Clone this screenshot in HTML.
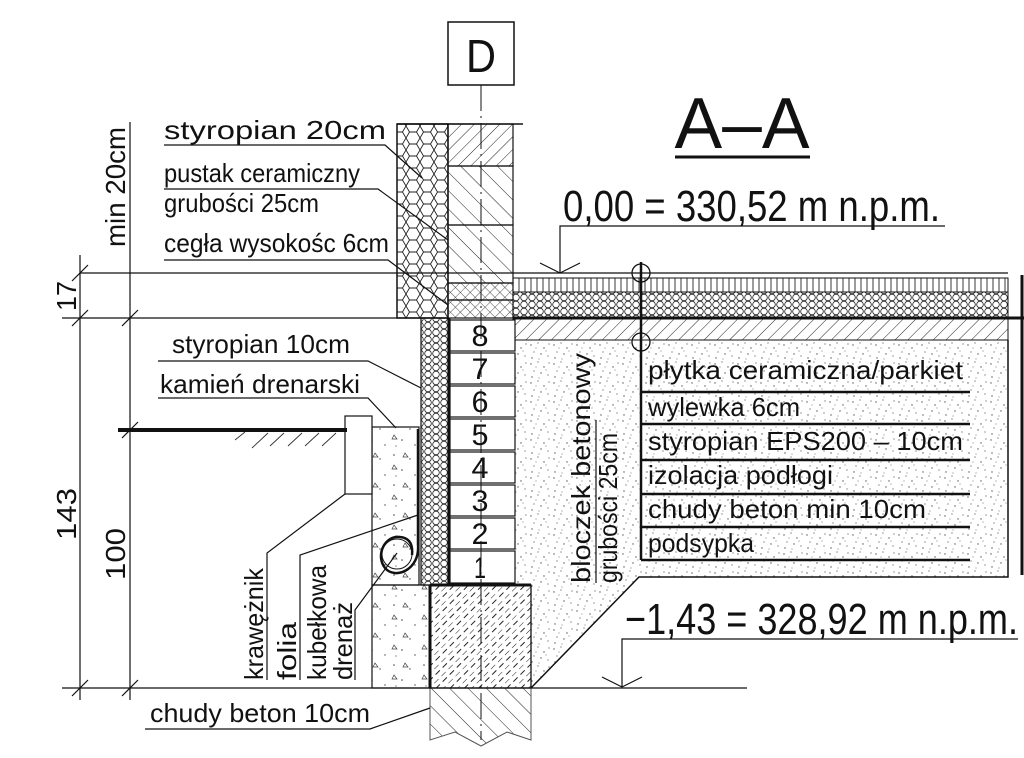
<!DOCTYPE html>
<html><head><meta charset="utf-8"><style>
html,body{margin:0;padding:0;background:#fff;}
svg{display:block;}
text{font-family:"Liberation Sans",sans-serif;fill:#111;}
</style></head><body>
<svg width="1024" height="758" viewBox="0 0 1024 758" xmlns="http://www.w3.org/2000/svg">
<defs>
<pattern id="hex" width="14" height="12" patternUnits="userSpaceOnUse">
<path d="M3.5,0 L10.5,0 L14,6 L10.5,12 L3.5,12 L0,6 Z" fill="none" stroke="#222" stroke-width="0.9"/>
</pattern>
<pattern id="hexs" width="8" height="7" patternUnits="userSpaceOnUse">
<circle cx="4" cy="3.5" r="3.3" fill="none" stroke="#222" stroke-width="0.8"/>
</pattern>
<pattern id="hatch" width="9" height="9" patternUnits="userSpaceOnUse" patternTransform="rotate(45)">
<line x1="0" y1="0" x2="0" y2="9" stroke="#222" stroke-width="1"/>
</pattern>
<pattern id="hatch2" width="13" height="13" patternUnits="userSpaceOnUse" patternTransform="rotate(-45)">
<line x1="0" y1="0" x2="0" y2="13" stroke="#222" stroke-width="1"/>
</pattern>
<pattern id="hatchd" width="10" height="10" patternUnits="userSpaceOnUse" patternTransform="rotate(45)">
<line x1="0" y1="0" x2="0" y2="6" stroke="#222" stroke-width="1"/>
<line x1="5" y1="3" x2="5" y2="9" stroke="#222" stroke-width="1"/>
</pattern>
<pattern id="cross" width="7" height="7" patternUnits="userSpaceOnUse" patternTransform="rotate(45)">
<line x1="0" y1="0" x2="0" y2="7" stroke="#222" stroke-width="0.8"/>
<line x1="0" y1="0" x2="7" y2="0" stroke="#222" stroke-width="0.8"/>
</pattern>
<pattern id="vl" width="6" height="20" patternUnits="userSpaceOnUse">
<line x1="3" y1="0" x2="3" y2="20" stroke="#222" stroke-width="0.9"/>
</pattern>
<pattern id="dots" width="23" height="19" patternUnits="userSpaceOnUse">
<g fill="#555"><circle cx="2" cy="3" r="0.7"/><circle cx="9" cy="1" r="0.6"/><circle cx="15" cy="6" r="0.7"/><circle cx="20" cy="2" r="0.6"/><circle cx="5" cy="10" r="0.6"/><circle cx="12" cy="12" r="0.7"/><circle cx="19" cy="14" r="0.6"/><circle cx="3" cy="16" r="0.7"/><circle cx="10" cy="17" r="0.5"/><circle cx="17" cy="9" r="0.5"/><circle cx="7" cy="6" r="0.5"/></g>
</pattern>
<pattern id="conc" width="30" height="30" patternUnits="userSpaceOnUse">
<g fill="#444"><circle cx="4" cy="5" r="0.8"/><circle cx="20" cy="9" r="0.7"/><circle cx="12" cy="20" r="0.8"/><circle cx="25" cy="25" r="0.7"/><circle cx="6" cy="26" r="0.6"/></g>
<path d="M15,3 l3,4 h-5z M4,15 l3,4 h-5z" fill="none" stroke="#444" stroke-width="0.7"/>
</pattern>
</defs>

<!-- D box -->
<rect x="448" y="22" width="66" height="63" fill="none" stroke="#111" stroke-width="1.5"/>
<text x="481" y="72" font-size="46" text-anchor="middle" textLength="30" lengthAdjust="spacingAndGlyphs">D</text>

<!-- A-A -->
<text x="742" y="148" font-size="72" text-anchor="middle" textLength="135" lengthAdjust="spacingAndGlyphs">A–A</text>
<line x1="675" y1="157" x2="810" y2="157" stroke="#111" stroke-width="3"/>

<!-- 0,00 label -->
<text x="563" y="221" font-size="44" textLength="377" lengthAdjust="spacingAndGlyphs">0,00 = 330,52 m n.p.m.</text>
<polyline points="945,226 560,226 560,273" fill="none" stroke="#111" stroke-width="1.2"/>
<polyline points="540,263 560,273 580,263" fill="none" stroke="#111" stroke-width="1.2"/>

<!-- sand fill -->
<path d="M515,340 H1008 V577 H639 L531,688 V585 H515 Z" fill="url(#dots)" stroke="none"/>
<path d="M1008,340 V577 H639 L531,688" fill="none" stroke="#111" stroke-width="1.5"/>

<!-- upper wall -->
<rect x="397" y="124" width="51" height="194" fill="url(#hex)" stroke="#111" stroke-width="1.5"/>
<rect x="448" y="124" width="65" height="42" fill="url(#hatch)" stroke="#111" stroke-width="1.2"/>
<rect x="448" y="166" width="65" height="59" fill="url(#hatch2)" stroke="#111" stroke-width="1.2"/>
<rect x="448" y="225" width="65" height="58" fill="url(#hatch2)" stroke="#111" stroke-width="1.2"/>
<rect x="448" y="283" width="65" height="17" fill="url(#cross)" stroke="#111" stroke-width="1.2"/>
<rect x="448" y="300" width="65" height="18" fill="url(#cross)" stroke="#111" stroke-width="1.2"/>
<line x1="397" y1="124" x2="523" y2="124" stroke="#111" stroke-width="1.5"/>

<!-- floor layers -->
<rect x="513" y="278" width="495" height="14" fill="url(#vl)" stroke="#111" stroke-width="1"/>
<rect x="513" y="292" width="495" height="26" fill="url(#hexs)" stroke="#111" stroke-width="1"/>
<rect x="513" y="318" width="495" height="22" fill="url(#hatch)" stroke="#111" stroke-width="1"/>
<line x1="513" y1="318" x2="1024" y2="318" stroke="#111" stroke-width="3"/>
<line x1="80" y1="273" x2="1008" y2="273" stroke="#111" stroke-width="1.3"/>
<line x1="1022" y1="275" x2="1022" y2="575" stroke="#111" stroke-width="3"/>

<!-- ground level line -->
<line x1="62" y1="318" x2="448" y2="318" stroke="#111" stroke-width="1.3"/>

<!-- lower wall -->
<rect x="421" y="318" width="27" height="267" fill="url(#hexs)" stroke="#111" stroke-width="1.2"/>
<g stroke="#111" stroke-width="1.2" fill="#fff">
<rect x="450" y="320" width="65" height="31"/><rect x="450" y="353" width="65" height="31"/>
<rect x="450" y="386" width="65" height="31"/><rect x="450" y="419" width="65" height="31"/>
<rect x="450" y="452" width="65" height="31"/><rect x="450" y="485" width="65" height="31"/>
<rect x="450" y="518" width="65" height="31"/><rect x="450" y="551" width="65" height="32"/>
</g>
<line x1="449" y1="318" x2="449" y2="585" stroke="#111" stroke-width="3"/>
<g font-size="30" text-anchor="middle">
<text x="480" y="346" textLength="17" lengthAdjust="spacingAndGlyphs">8</text><text x="480" y="379" textLength="17" lengthAdjust="spacingAndGlyphs">7</text><text x="480" y="412" textLength="17" lengthAdjust="spacingAndGlyphs">6</text><text x="480" y="445" textLength="17" lengthAdjust="spacingAndGlyphs">5</text>
<text x="480" y="478" textLength="17" lengthAdjust="spacingAndGlyphs">4</text><text x="480" y="511" textLength="17" lengthAdjust="spacingAndGlyphs">3</text><text x="480" y="544" textLength="17" lengthAdjust="spacingAndGlyphs">2</text><text x="480" y="578" textLength="12" lengthAdjust="spacingAndGlyphs">1</text>
</g>

<!-- footing -->
<rect x="430" y="585" width="101" height="103" fill="url(#hatchd)" stroke="#111" stroke-width="1.3"/>
<line x1="430" y1="585" x2="531" y2="585" stroke="#111" stroke-width="3"/>
<line x1="430" y1="585" x2="430" y2="688" stroke="#111" stroke-width="3"/>
<path d="M430,688 V740 L455,732 L481,746 L507,732 L531,740 V688" fill="url(#hatch2)" stroke="#555" stroke-width="1"/>

<!-- gravel -->
<rect x="372" y="427" width="47" height="158" fill="url(#conc)" stroke="#111" stroke-width="1.2"/>
<rect x="372" y="585" width="58" height="103" fill="url(#conc)" stroke="#111" stroke-width="1.2"/>
<line x1="418" y1="429" x2="418" y2="545" stroke="#111" stroke-width="2.5"/>
<path d="M418,545 C420,570 395,580 385,568 C375,555 385,535 400,537 C410,538 413,545 412,555" fill="none" stroke="#111" stroke-width="2.5"/>
<circle cx="397" cy="554" r="15" fill="none" stroke="#111" stroke-width="1"/>

<!-- krawężnik -->
<rect x="345" y="416" width="27" height="78" fill="#fff" stroke="#111" stroke-width="1.2"/>
<line x1="118" y1="430" x2="347" y2="430" stroke="#111" stroke-width="4"/>
<g stroke="#333" stroke-width="0.9">
<line x1="235" y1="440" x2="245" y2="432"/><line x1="252" y1="448" x2="268" y2="433"/><line x1="270" y1="446" x2="284" y2="433"/><line x1="288" y1="446" x2="302" y2="433"/><line x1="305" y1="446" x2="319" y2="433"/><line x1="322" y1="446" x2="336" y2="433"/>
</g>

<!-- bottom line -->
<line x1="62" y1="688" x2="747" y2="688" stroke="#111" stroke-width="1.3"/>

<!-- axis -->
<line x1="481" y1="85" x2="481" y2="740" stroke="#111" stroke-width="1" stroke-dasharray="26,5,2,5"/>

<!-- floor label stack -->
<line x1="641" y1="262" x2="641" y2="560" stroke="#111" stroke-width="2.5"/>
<circle cx="641" cy="273" r="9" fill="none" stroke="#111" stroke-width="1.3"/>
<circle cx="641" cy="342" r="9" fill="none" stroke="#111" stroke-width="1.3"/>
<g stroke="#111" stroke-width="2.5">
<line x1="641" y1="392" x2="970" y2="392"/><line x1="641" y1="424" x2="970" y2="424"/>
<line x1="641" y1="460" x2="970" y2="460"/><line x1="641" y1="494" x2="970" y2="494"/>
<line x1="641" y1="527" x2="970" y2="527"/><line x1="641" y1="560" x2="970" y2="560"/>
</g>
<g font-size="26">
<text x="648" y="379" textLength="315" lengthAdjust="spacingAndGlyphs">płytka ceramiczna/parkiet</text>
<text x="648" y="416" textLength="152" lengthAdjust="spacingAndGlyphs">wylewka 6cm</text>
<text x="648" y="450" textLength="315" lengthAdjust="spacingAndGlyphs">styropian EPS200 – 10cm</text>
<text x="648" y="484" textLength="185" lengthAdjust="spacingAndGlyphs">izolacja podłogi</text>
<text x="648" y="518" textLength="278" lengthAdjust="spacingAndGlyphs">chudy beton min 10cm</text>
<text x="648" y="552" textLength="106" lengthAdjust="spacingAndGlyphs">podsypka</text>
</g>

<!-- -1,43 label -->
<text x="625" y="634" font-size="44" textLength="393" lengthAdjust="spacingAndGlyphs">−1,43 = 328,92 m n.p.m.</text>
<polyline points="1018,639 622,639 622,687" fill="none" stroke="#111" stroke-width="1.2"/>
<polyline points="602,677 622,687 642,677" fill="none" stroke="#111" stroke-width="1.2"/>

<!-- bloczek vertical -->
<text transform="translate(590,583) rotate(-90)" font-size="26" textLength="230" lengthAdjust="spacingAndGlyphs">bloczek betonowy</text>
<line x1="596" y1="420" x2="596" y2="583" stroke="#111" stroke-width="1.2"/>
<text transform="translate(617,583) rotate(-90)" font-size="26" textLength="150" lengthAdjust="spacingAndGlyphs">grubości 25cm</text>

<!-- left labels -->
<g font-size="26">
<text x="164" y="139" textLength="222" lengthAdjust="spacingAndGlyphs">styropian 20cm</text>
<text x="164" y="182" textLength="196" lengthAdjust="spacingAndGlyphs">pustak ceramiczny</text>
<text x="164" y="212" textLength="155" lengthAdjust="spacingAndGlyphs">grubości 25cm</text>
<text x="164" y="252" textLength="225" lengthAdjust="spacingAndGlyphs">cegła wysokośc 6cm</text>
<text x="172" y="353" textLength="178" lengthAdjust="spacingAndGlyphs">styropian 10cm</text>
<text x="160" y="393" textLength="200" lengthAdjust="spacingAndGlyphs">kamień drenarski</text>
<text x="150" y="722" textLength="220" lengthAdjust="spacingAndGlyphs">chudy beton 10cm</text>
</g>
<g fill="none" stroke="#111" stroke-width="1.2">
<polyline points="164,145 385,145 422,178"/>
<polyline points="164,189 378,189 448,240"/>
<polyline points="164,260 388,260 448,305"/>
<polyline points="158,361 368,361 421,388"/>
<polyline points="158,398 368,398 396,428"/>
<polyline points="145,729 370,729 430,708"/>
<polyline points="267,680 267,553 345,494"/>
<polyline points="300,680 300,555 418,515"/>
<polyline points="355,680 355,610 397,553"/>
</g>
<g font-size="26">
<text transform="translate(263,680) rotate(-90)" textLength="112" lengthAdjust="spacingAndGlyphs">krawężnik</text>
<text transform="translate(296,680) rotate(-90)" textLength="58" lengthAdjust="spacingAndGlyphs">folia</text>
<text transform="translate(326,680) rotate(-90)" textLength="115" lengthAdjust="spacingAndGlyphs">kubełkowa</text>
<text transform="translate(352,680) rotate(-90)" textLength="78" lengthAdjust="spacingAndGlyphs">drenaż</text>
</g>

<!-- dimension lines -->
<g stroke="#111" stroke-width="1.2" fill="none">
<line x1="80" y1="255" x2="80" y2="700"/>
<line x1="130" y1="122" x2="130" y2="700"/>
<line x1="72" y1="281" x2="88" y2="265"/><line x1="72" y1="326" x2="88" y2="310"/><line x1="72" y1="696" x2="88" y2="680"/>
<line x1="122" y1="326" x2="138" y2="310"/><line x1="122" y1="438" x2="138" y2="422"/><line x1="122" y1="696" x2="138" y2="680"/>
</g>
<g font-size="28">
<text transform="translate(76,311) rotate(-90)" textLength="30" lengthAdjust="spacingAndGlyphs">17</text>
<text transform="translate(76,540) rotate(-90)" textLength="52" lengthAdjust="spacingAndGlyphs">143</text>
<text transform="translate(125,580) rotate(-90)" textLength="52" lengthAdjust="spacingAndGlyphs">100</text>
<text transform="translate(125,247) rotate(-90)" textLength="120" lengthAdjust="spacingAndGlyphs">min 20cm</text>
</g>
</svg>
</body></html>
